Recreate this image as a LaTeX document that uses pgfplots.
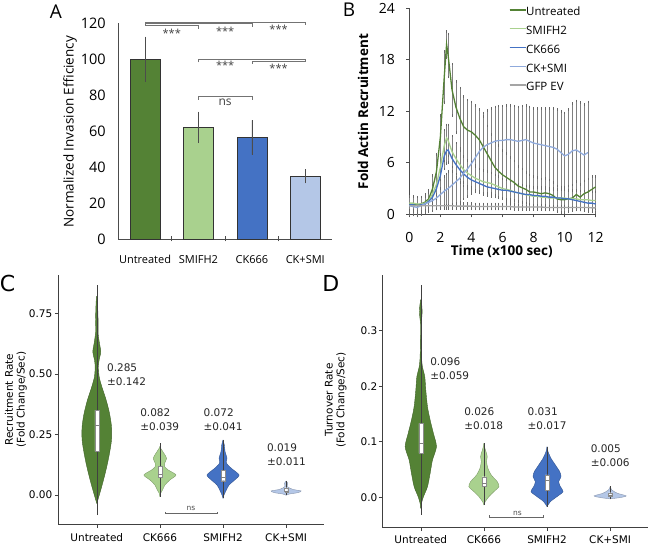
\documentclass[border=0pt]{standalone}
\usepackage{pgfplots}
\pgfplotsset{compat=1.18}
\usepackage{pgfplotstable}
\usepackage{fontspec}
\setmainfont{Open Sans}
\newfontfamily\dvs{DejaVu Sans}
\definecolor{cU}{HTML}{548235}
\definecolor{cS}{HTML}{A9D18E}
\definecolor{cK}{HTML}{4472C4}
\definecolor{cC}{HTML}{B4C7E7}
\definecolor{cC2}{HTML}{8FAADC}
\definecolor{cG}{HTML}{A5A5A5}

\pgfplotstableread{
x U eU S eS K eK C eC G eG
0 1.2 0.8 1.3 0.8 1.1 0.8 1.0 1.0 1.0 0.3
0.25 1.2 0.8 1.3 0.8 1.1 0.8 0.9 1.0 1.0 0.3
0.5 1.1 0.8 1.2 0.8 1.0 0.8 0.8 1.0 1.0 0.3
0.75 1.2 0.8 1.2 0.8 1.1 0.8 1.0 1.0 1.0 0.3
1.0 1.4 0.9 1.3 0.8 1.2 0.8 1.2 1.0 1.0 0.3
1.25 1.8 1.0 1.6 0.9 1.5 0.9 1.4 1.1 1.0 0.3
1.5 3.0 1.5 2.4 1.0 2.0 1.0 1.6 1.2 1.0 0.3
1.75 5.0 2.0 3.5 1.2 3.0 1.2 1.9 1.3 1.0 0.3
2.0 9.0 2.5 5.5 1.5 4.5 1.5 2.3 1.5 1.0 0.3
2.25 16.0 3.0 8.0 1.8 6.8 1.5 2.7 1.7 1.0 0.3
2.4 19.8 1.5 8.9 1.5 7.4 1.5 2.9 1.8 1.0 0.3
2.5 18.5 2.5 8.6 1.8 7.5 1.5 3.0 2.0 1.0 0.3
2.75 14.5 3.0 7.3 1.8 6.5 1.5 3.4 2.2 1.0 0.3
3.0 12.5 3.0 6.5 1.8 5.8 1.5 3.8 2.5 0.95 0.3
3.25 11.2 3.5 5.8 1.6 5.2 1.5 4.2 2.8 0.95 0.3
3.5 10.2 3.5 5.2 1.5 4.7 1.4 4.8 3.0 0.95 0.3
3.75 9.8 3.5 4.8 1.5 4.3 1.3 5.3 3.2 0.95 0.3
4.0 9.6 3.5 4.5 1.4 4.0 1.2 5.9 3.5 0.95 0.3
4.25 9.2 3.5 4.2 1.4 3.8 1.2 6.6 3.7 0.9 0.3
4.5 8.7 3.5 4.0 1.3 3.6 1.1 7.3 3.9 0.9 0.3
4.75 7.9 3.5 3.8 1.3 3.4 1.1 7.8 4.0 0.9 0.3
5.0 7.1 3.2 3.7 1.3 3.2 1.0 8.1 4.0 0.9 0.3
5.25 6.3 3.0 3.6 1.2 3.1 1.0 8.3 4.0 0.9 0.3
5.5 5.5 3.0 3.4 1.2 3.0 1.0 8.5 4.0 0.9 0.3
5.75 5.0 3.0 3.2 1.2 2.9 1.0 8.6 4.0 0.9 0.3
6.0 4.6 2.8 3.0 1.1 2.8 1.0 8.6 4.0 0.9 0.3
6.25 4.3 2.8 2.9 1.1 2.8 1.0 8.7 4.0 0.9 0.3
6.5 4.0 2.6 2.8 1.1 2.7 1.0 8.7 4.0 0.9 0.3
6.75 3.7 2.5 2.6 1.0 2.6 1.0 8.6 4.0 0.85 0.3
7.0 3.3 2.3 2.5 1.0 2.5 1.0 8.5 4.0 0.85 0.3
7.25 3.1 2.2 2.4 1.0 2.4 1.0 8.6 4.0 0.85 0.3
7.5 2.9 2.0 2.3 1.0 2.3 1.0 8.7 4.0 0.85 0.3
7.75 2.6 2.0 2.2 1.0 2.3 1.0 8.5 4.0 0.85 0.3
8.0 2.6 1.8 2.1 1.0 2.2 1.0 8.3 4.0 0.85 0.3
8.25 2.5 1.8 2.1 1.0 2.2 1.0 8.2 4.1 0.85 0.3
8.5 2.4 1.7 2.0 1.0 2.1 1.0 8.1 4.2 0.85 0.3
8.75 2.5 1.7 2.0 1.0 2.1 1.0 8.0 4.3 0.8 0.3
9.0 2.4 1.6 1.9 1.0 2.0 1.0 7.9 4.4 0.8 0.3
9.25 2.2 1.5 1.9 1.0 2.0 1.0 7.8 4.5 0.8 0.3
9.5 1.8 1.5 1.9 1.0 1.9 1.0 7.6 4.6 0.8 0.3
9.75 1.7 1.5 1.9 1.0 1.9 1.0 7.2 4.8 0.8 0.3
10.0 1.7 1.5 1.9 1.0 1.8 1.0 6.8 5.0 0.8 0.3
10.25 1.8 1.5 1.8 1.0 1.8 1.0 7.0 5.2 0.8 0.3
10.5 1.9 1.5 1.8 1.0 1.7 1.0 7.4 5.5 0.8 0.3
10.75 2.3 1.5 1.8 1.0 1.6 1.0 7.5 5.7 0.8 0.3
11.0 2.0 1.5 1.7 1.0 1.5 1.0 7.2 5.8 0.8 0.3
11.25 2.4 1.5 1.7 1.0 1.4 1.0 6.9 5.9 0.8 0.3
11.5 2.6 1.5 1.7 1.0 1.3 1.0 7.2 5.9 0.8 0.3
11.75 2.9 1.5 1.6 1.0 1.3 1.0 nan nan 0.75 0.3
12.0 3.2 1.2 1.6 1.0 1.2 1.0 nan nan 0.75 0.3
}\tB

% violin half-widths (y, w)
\pgfplotstableread{
y w
-0.035 0
-0.021 0.016
0.021 0.063
0.062 0.106
0.117 0.158
0.172 0.201
0.227 0.233
0.282 0.233
0.337 0.201
0.392 0.148
0.447 0.079
0.488 0.037
0.530 0.026
0.557 0.037
0.591 0.063
0.626 0.042
0.667 0.021
0.715 0.021
0.760 0.016
0.800 0.010
0.820 0
}\vCU
\pgfplotstableread{
y w
-0.007 0
0.007 0.011
0.021 0.042
0.041 0.079
0.062 0.158
0.0825 0.254
0.103 0.132
0.117 0.074
0.131 0.074
0.151 0.106
0.172 0.063
0.193 0.011
0.200 0
}\vCK
\pgfplotstableread{
y w
-0.014 0
0.000 0.016
0.021 0.053
0.041 0.095
0.062 0.185
0.0825 0.254
0.110 0.132
0.131 0.053
0.151 0.063
0.179 0.032
0.206 0.021
0.227 0
}\vCS
\pgfplotstableread{
y w
-0.001 0
0.004 0.053
0.0095 0.185
0.0165 0.238
0.023 0.106
0.034 0.021
0.048 0.026
0.058 0
}\vCC
\pgfplotstableread{
y w
-0.020 0
-0.011 0.011
0.001 0.042
0.019 0.106
0.043 0.148
0.067 0.185
0.091 0.248
0.115 0.200
0.139 0.148
0.163 0.106
0.193 0.079
0.217 0.063
0.235 0.026
0.253 0.011
0.290 0.005
0.313 0.005
0.325 0.016
0.334 0.021
0.345 0.016
0.356 0
}\vDU
\pgfplotstableread{
y w
-0.014 0
-0.008 0.021
0.001 0.079
0.010 0.158
0.019 0.238
0.028 0.211
0.040 0.116
0.052 0.063
0.064 0.042
0.073 0.053
0.079 0.042
0.088 0.016
0.097 0
}\vDK
\pgfplotstableread{
y w
-0.017 0
-0.008 0.053
0.001 0.158
0.010 0.254
0.019 0.211
0.028 0.185
0.037 0.222
0.046 0.201
0.058 0.132
0.070 0.063
0.082 0.016
0.091 0
}\vDS
\pgfplotstableread{
y w
-0.003 0
-0.0007 0.158
0.0023 0.254
0.007 0.116
0.013 0.026
0.019 0
}\vDC

\pgfplotsset{violin/.style={fill=#1, draw=#1!75!black, line width=0.4pt, smooth, tension=0.45}}
\newcommand\violin[3]{%
  \addplot[violin=#3] table[x expr={#1+\thisrow{w}}, y=y] {#2};
  \addplot[violin=#3] table[x expr={#1-\thisrow{w}}, y=y] {#2};}
% center lo hi xl xr q1 q3 med
\newcommand\violinbox[8]{%
  \addplot[black!75, line width=0.5pt] coordinates {(#1,#2) (#1,#3)};
  \addplot[fill=white, draw=black!45, line width=0.3pt] coordinates {(#4,#6) (#5,#6) (#5,#7) (#4,#7) (#4,#6)};
  \addplot[black!50, line width=0.4pt] coordinates {(#4,#8) (#5,#8)};}
% error bars only, for panel B
\newcommand\ebars[2]{%
  \addplot[draw=none, no markers, forget plot,
    error bars/.cd, y dir=both, y explicit,
    error bar style={draw=black!50, line width=0.45pt},
    error mark options={draw=black!60, mark size=1.3pt, line width=0.45pt}]
    table[x=x, y=#1, y error=#2] {\tB};}

\newcommand\fs[1]{\fontsize{#1}{#1}\selectfont}

\begin{document}
\begin{tikzpicture}
\useasboundingbox (0pt,0pt) rectangle (650pt,545pt);
% panel letters
\node[font=\fs{19}] at (55.8pt,533.3pt) {A};
\node[font=\fs{19}] at (349pt,535pt) {B};
\node[font=\dvs\fs{22}] at (7.5pt,261.7pt) {C};
\node[font=\dvs\fs{22}] at (330.8pt,261.7pt) {D};

% ---------------- Panel A ----------------
\begin{axis}[at={(118.3pt,306pt)}, anchor=south west, scale only axis,
  width=213.7pt, height=215.7pt, xmin=-0.5, xmax=3.5, ymin=0, ymax=120,
  axis x line=bottom, axis y line=left,
  axis line style={-, black!70, line width=0.8pt},
  ytick={0,20,40,60,80,100,120}, yticklabels={0,20,40,60,80,100,120},
  major tick length=0pt,
  xtick={0,1,2,3}, xticklabels={Untreated,SMIFH2,CK666,CK+SMI},
  extra x ticks={0.5,1.5,2.5}, extra x tick labels={},
  extra x tick style={major tick length=5pt, tick align=center, tick style={black!70, line width=0.6pt}},
  x tick label style={font=\fs{11}, yshift=-13pt},
  y tick label style={font=\fs{14.5}, xshift=-9pt},
  ylabel={Normalized Invasion Efficiency},
  ylabel style={font=\fs{13.5}, at={(axis description cs:-0.226,0.497)}, anchor=center},
  clip=false]
\addplot[ybar, bar width=30pt, bar shift=0pt, fill=cU, draw=black!80, line width=0.7pt,
  error bars/.cd, y dir=both, y explicit, error mark=none, error bar style={black!70, line width=0.7pt}]
  coordinates {(0,100.1) +- (0,12.5)};
\addplot[ybar, bar width=30pt, bar shift=0pt, fill=cS, draw=black!80, line width=0.7pt,
  error bars/.cd, y dir=both, y explicit, error mark=none, error bar style={black!70, line width=0.7pt}]
  coordinates {(1,62.1) +- (0,8.8)};
\addplot[ybar, bar width=30pt, bar shift=0pt, fill=cK, draw=black!80, line width=0.7pt,
  error bars/.cd, y dir=both, y explicit, error mark=none, error bar style={black!70, line width=0.7pt}]
  coordinates {(2,56.5) +- (0,9.5)};
\addplot[ybar, bar width=30pt, bar shift=0pt, fill=cC, draw=black!80, line width=0.7pt,
  error bars/.cd, y dir=both, y explicit, error mark=none, error bar style={black!70, line width=0.7pt}]
  coordinates {(3,34.8) +- (0,3.9)};
% significance brackets
\begin{scope}[black!55, line width=0.7pt]
\draw (axis cs:0,118.8) -- (axis cs:0,120.4) -- (axis cs:3,120.4) -- (axis cs:3,118.8);
\draw (axis cs:2,118.1) -- (axis cs:2,119.7) -- (axis cs:0,119.7);
\draw (axis cs:1,117.0) -- (axis cs:1,118.6) -- (axis cs:0,118.6);
\draw (axis cs:1,98.3) -- (axis cs:1,99.9) -- (axis cs:3,99.9) -- (axis cs:3,98.3);
\draw (axis cs:2,97.4) -- (axis cs:2,99.0) -- (axis cs:3,99.0);
\draw (axis cs:1,77.6) -- (axis cs:1,79.2) -- (axis cs:2,79.2) -- (axis cs:2,77.6);
\end{scope}
\begin{scope}[every node/.style={font=\fs{11}, text=black!75, anchor=base, inner sep=0pt}]
\node at ([yshift=-6.5pt]axis cs:0.5,115.8) {***};
\node at ([yshift=-6.5pt]axis cs:1.5,116.7) {***};
\node at ([yshift=-6.5pt]axis cs:2.5,118.2) {***};
\node at ([yshift=-6.5pt]axis cs:1.5,97.7) {***};
\node at ([yshift=-6.5pt]axis cs:2.5,96.4) {***};
\node[font=\fs{12}] at ([yshift=-3pt]axis cs:1.5,75.9) {ns};
\end{scope}
\end{axis}

% ---------------- Panel B ----------------
\begin{axis}[at={(409.3pt,330.7pt)}, anchor=south west, scale only axis,
  width=186.4pt, height=206pt, xmin=0, xmax=12, ymin=0, ymax=24,
  axis x line=bottom, axis y line=left,
  axis line style={-, black!70, line width=0.8pt},
  xtick={0,2,4,6,8,10,12}, xticklabels={0,2,4,6,8,10,12},
  ytick={0,6,12,18,24}, yticklabels={0,6,12,18,24},
  tick align=outside, major tick length=3pt, tick style={black!70, line width=0.6pt},
  x tick label style={font=\fs{14}, yshift=-12pt},
  y tick label style={font=\fs{14}, xshift=-8pt},
  xlabel={\bfseries Time (x100 sec)},
  xlabel style={font=\fs{13.5}, at={(axis description cs:0.496,-0.1816)}, anchor=center},
  ylabel={\bfseries Fold Actin Recruitment},
  ylabel style={font=\fs{13.5}, at={(axis description cs:-0.248,0.498)}, anchor=center},
  legend style={at={(0.533,1.005)}, anchor=north west, draw=none, fill=none,
    font=\fs{11.5}, row sep=7.75pt, inner sep=0pt,
    nodes={inner sep=0pt, text height=8.5pt, text depth=2.5pt}},
  legend cell align=left,
  legend image code/.code={\draw[#1, line width=1.3pt] (0pt,3pt) -- (10pt,3pt); \path (0pt,3pt) -- (16pt,3pt);},
  clip=false]
% error bars
\ebars{G}{eG}
\ebars{C}{eC}
\ebars{U}{eU}
\ebars{K}{eK}
\ebars{S}{eS}
% lines
\addplot[cU, no markers, line width=1.3pt] table[x=x, y=U] {\tB};
\addlegendentry{Untreated}
\addplot[cS, no markers, line width=1.3pt] table[x=x, y=S] {\tB};
\addlegendentry{SMIFH2}
\addplot[cK, no markers, line width=1.3pt] table[x=x, y=K] {\tB};
\addlegendentry{CK666}
\addplot[cC2, no markers, line width=1.3pt] table[x=x, y=C] {\tB};
\addlegendentry{CK+SMI}
\addplot[cG, no markers, line width=1.3pt] table[x=x, y=G] {\tB};
\addlegendentry{GFP EV}
\end{axis}

% ---------------- Panel C ----------------
\begin{axis}[at={(58.3pt,20.7pt)}, anchor=south west, scale only axis,
  width=265.7pt, height=249.3pt, xmin=-0.61, xmax=3.6, ymin=-0.121, ymax=0.9076,
  axis x line=bottom, axis y line=left,
  axis line style={-, black!75, line width=0.6pt},
  xtick={0,1,2,3}, xticklabels={Untreated,CK666,SMIFH2,CK+SMI},
  ytick={0,0.25,0.5,0.75}, yticklabels={0.00,0.25,0.50,0.75},
  tick align=outside, major tick length=3.5pt, tick style={black!75, line width=0.5pt},
  x tick label style={font=\dvs\fs{10.5}, yshift=-2pt},
  y tick label style={font=\dvs\fs{10.5}, xshift=1pt},
  ylabel={Recruitment Rate\\(Fold Change/Sec)},
  ylabel style={font=\dvs\fontsize{10.5}{11.7}\selectfont, align=center, at={(axis description cs:-0.16,0.5)}, anchor=center},
  clip=false]
\violin{0}{\vCU}{cU}
\violin{1}{\vCK}{cS}
\violin{2}{\vCS}{cK}
\violin{3}{\vCC}{cC}
\violinbox{0}{-0.083}{0.866}{-0.032}{0.032}{0.18}{0.35}{0.286}
\violinbox{1}{-0.007}{0.213}{0.97}{1.03}{0.073}{0.117}{0.085}
\violinbox{2}{-0.014}{0.227}{1.97}{2.03}{0.059}{0.103}{0.072}
\violinbox{3}{0.0}{0.058}{2.975}{3.025}{0.012}{0.030}{0.017}
\begin{scope}[every node/.style={font=\dvs\fontsize{10.5}{14}\selectfont, align=left, anchor=west, inner sep=0pt, text=black!85}]
\node at (axis cs:0.16,0.495) {0.285\\±0.142};
\node at (axis cs:0.686,0.311) {0.082\\±0.039};
\node at (axis cs:1.69,0.311) {0.072\\±0.041};
\node at (axis cs:2.694,0.165) {0.019\\±0.011};
\end{scope}
\draw[black!60, line width=0.5pt] (axis cs:1.084,-0.070) -- (axis cs:1.084,-0.0755) -- (axis cs:1.91,-0.0755) -- (axis cs:1.91,-0.070);
\node[font=\dvs\fs{7.5}, text=black!70, anchor=base, inner sep=0pt] at ([yshift=-2pt]axis cs:1.49,-0.055) {ns};
\end{axis}

% ---------------- Panel D ----------------
\begin{axis}[at={(382.3pt,17.3pt)}, anchor=south west, scale only axis,
  width=265.7pt, height=252.7pt, xmin=-0.61, xmax=3.6, ymin=-0.055, ymax=0.4005,
  axis x line=bottom, axis y line=left,
  axis line style={-, black!75, line width=0.6pt},
  xtick={0,1,2,3}, xticklabels={Untreated,CK666,SMIFH2,CK+SMI},
  ytick={0,0.1,0.2,0.3}, yticklabels={0.0,0.1,0.2,0.3},
  tick align=outside, major tick length=3.5pt, tick style={black!75, line width=0.5pt},
  x tick label style={font=\dvs\fs{10.5}, yshift=-1pt},
  y tick label style={font=\dvs\fs{10.5}, xshift=2pt},
  ylabel={Turnover Rate\\(Fold Change/Sec)},
  ylabel style={font=\dvs\fontsize{10.5}{11.7}\selectfont, align=center, at={(axis description cs:-0.175,0.505)}, anchor=center},
  clip=false]
\violin{0}{\vDU}{cU}
\violin{1}{\vDK}{cS}
\violin{2}{\vDS}{cK}
\violin{3}{\vDC}{cC}
\violinbox{0}{-0.032}{0.383}{-0.032}{0.032}{0.079}{0.133}{0.097}
\violinbox{1}{-0.014}{0.097}{0.97}{1.03}{0.019}{0.037}{0.026}
\violinbox{2}{-0.017}{0.091}{1.97}{2.03}{0.013}{0.040}{0.031}
\violinbox{3}{-0.003}{0.020}{2.975}{3.025}{0.001}{0.008}{0.004}
\begin{scope}[every node/.style={font=\dvs\fontsize{10.5}{14}\selectfont, align=left, anchor=west, inner sep=0pt, text=black!85}]
\node at (axis cs:0.147,0.231) {0.096\\±0.059};
\node at (axis cs:0.686,0.141) {0.026\\±0.018};
\node at (axis cs:1.69,0.141) {0.031\\±0.017};
\node at (axis cs:2.69,0.075) {0.005\\±0.006};
\end{scope}
\draw[black!60, line width=0.5pt] (axis cs:1.087,-0.033) -- (axis cs:1.087,-0.0367) -- (axis cs:1.933,-0.0367) -- (axis cs:1.933,-0.033);
\node[font=\dvs\fs{7.5}, text=black!70, anchor=base, inner sep=0pt] at ([yshift=-1pt]axis cs:1.53,-0.031) {ns};
\end{axis}
\end{tikzpicture}
\end{document}
